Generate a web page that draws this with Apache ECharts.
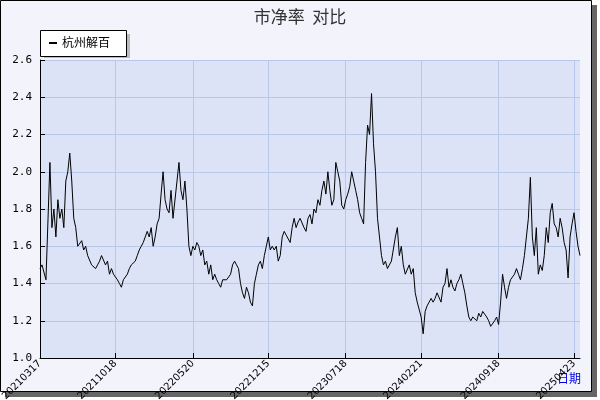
<!DOCTYPE html>
<html><head><meta charset="utf-8">
<script src="https://cdn.jsdelivr.net/npm/echarts@6/dist/echarts.min.js"></script>
<style>html,body{margin:0;padding:0;background:#fff}#c{width:600px;height:400px}</style>
</head><body><div id="c"></div>
<script>
const tickLabels = ['20210317','20211018','20220520','20221215','20230718','20240221','20240918','20250423'];
const tickIdx = [0,38,77,115,154,192,231,269];
const values = [1.48,1.5,1.49,1.42,1.42,2.05,1.7,1.8,1.65,1.85,1.75,1.8,1.7,1.95,2.0,2.1,1.95,1.75,1.7,1.6,1.6,1.63,1.58,1.6,1.55,1.55,1.5,1.5,1.48,1.5,1.52,1.55,1.55,1.5,1.52,1.45,1.48,1.45,1.45,1.42,1.4,1.38,1.42,1.42,1.45,1.48,1.5,1.5,1.52,1.55,1.58,1.6,1.62,1.65,1.68,1.65,1.7,1.6,1.65,1.72,1.75,1.88,2.0,1.85,1.8,1.78,1.9,1.75,1.75,1.95,2.05,1.9,1.85,1.95,1.8,1.6,1.55,1.6,1.58,1.62,1.6,1.55,1.58,1.5,1.52,1.45,1.5,1.42,1.45,1.42,1.4,1.38,1.42,1.43,1.42,1.42,1.45,1.5,1.52,1.5,1.48,1.4,1.35,1.32,1.38,1.35,1.3,1.28,1.4,1.45,1.5,1.52,1.48,1.55,1.6,1.65,1.58,1.6,1.58,1.6,1.52,1.55,1.65,1.68,1.66,1.65,1.62,1.7,1.75,1.7,1.73,1.75,1.75,1.7,1.68,1.75,1.77,1.72,1.8,1.78,1.85,1.82,1.9,1.95,1.88,2.0,1.9,1.82,1.85,2.05,2.0,1.95,1.82,1.8,1.85,1.88,1.92,2.0,1.95,1.9,1.85,1.78,1.75,1.72,2.05,2.25,2.2,2.42,2.15,2.0,1.75,1.65,1.55,1.5,1.52,1.48,1.5,1.52,1.53,1.65,1.7,1.55,1.6,1.5,1.45,1.45,1.5,1.45,1.48,1.35,1.3,1.3,1.22,1.13,1.25,1.28,1.3,1.32,1.3,1.32,1.35,1.35,1.3,1.38,1.4,1.48,1.38,1.42,1.38,1.36,1.4,1.42,1.45,1.4,1.35,1.28,1.22,1.2,1.22,1.22,1.2,1.24,1.22,1.25,1.26,1.22,1.2,1.17,1.16,1.2,1.22,1.18,1.3,1.45,1.38,1.32,1.38,1.42,1.42,1.45,1.48,1.45,1.42,1.48,1.55,1.55,1.75,1.97,1.65,1.55,1.7,1.45,1.5,1.47,1.55,1.7,1.62,1.78,1.83,1.72,1.7,1.65,1.75,1.7,1.62,1.58,1.43,1.65,1.72,1.78,1.68,1.6,1.55];
const yTicks = ['1.0','1.2','1.4','1.6','1.8','2.0','2.2','2.4','2.6'];
const cats = values.map((v,i)=>{const k=tickIdx.indexOf(i);return k>=0?tickLabels[k]:'';});
const isTick = i => tickIdx.indexOf(i)>=0;
const chart = echarts.init(document.getElementById('c'));
chart.setOption({
  animation:false,
  backgroundColor:'#ffffff',
  graphic:[
    {type:'rect',shape:{x:5,y:5,width:592,height:392},style:{fill:'#666'},z:-10},
    {type:'rect',shape:{x:0.5,y:0.5,width:591,height:391},style:{fill:'#f2f3fb',stroke:'#000',lineWidth:1},z:-9},
    {type:'rect',shape:{x:44,y:34,width:86,height:24},style:{fill:'#bbb'},z:5},
    {type:'rect',shape:{x:40.5,y:30.5,width:86,height:26},style:{fill:'#fff',stroke:'#000',lineWidth:1},z:6},
    {type:'rect',shape:{x:49,y:42,width:8,height:2},style:{fill:'#000'},z:7},
    {type:'text',x:62,y:36,style:{text:'杭州解百',fill:'#000',font:'12px "Noto Sans CJK SC"'},z:7},
    {type:'text',x:557,y:372,style:{text:'日期',fill:'#0000dd',font:'12px "Noto Sans CJK SC"'},z:7}
  ],
  title:{text:'市净率  对比',left:'center',top:3,textStyle:{fontSize:17,fontWeight:'normal',color:'#333',fontFamily:'Noto Sans CJK SC'}},
  grid:{left:40,right:20,top:60,bottom:42,outerBoundsMode:'none',containLabel:false,backgroundColor:'#dce3f6',show:true,borderWidth:0},
  xAxis:{type:'category',data:cats,boundaryGap:false,
    axisLine:{lineStyle:{color:'#000'}},
    axisTick:{interval:(i)=>isTick(i),length:5,inside:true,lineStyle:{color:'#000'}},
    axisLabel:{interval:(i)=>isTick(i),rotate:45,fontSize:10,color:'#000',fontFamily:'DejaVu Sans',margin:4},
    splitLine:{show:true,interval:(i)=>isTick(i),lineStyle:{color:'#b9c7eb'}}},
  yAxis:{type:'value',min:1.0,max:2.6,interval:0.2,
    axisLine:{show:true,lineStyle:{color:'#000'}},
    axisTick:{show:true,inside:true,length:5,lineStyle:{color:'#000'}},
    axisLabel:{formatter:v=>yTicks[Math.round((v-1)/0.2)]||'',fontSize:11,color:'#000',fontFamily:'DejaVu Sans Mono',margin:8},
    splitLine:{lineStyle:{color:'#b9c7eb'}}},
  series:[{type:'line',data:values,showSymbol:false,lineStyle:{color:'#000',width:1}}]
});
</script></body></html>
